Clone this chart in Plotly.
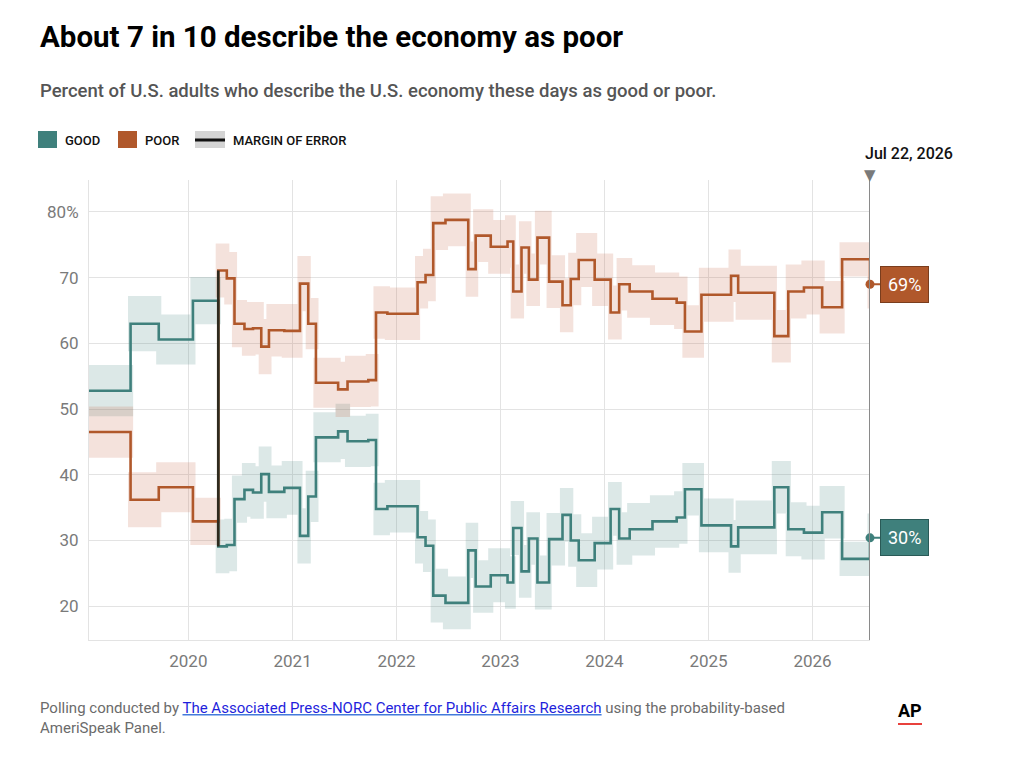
import pandas as pd
import plotly.graph_objects as go

# poll dates (AP-NORC), share saying economy is good / poor, margin of error
poll_dates = ["2019-01-17", "2019-06-12", "2019-09-19", "2020-01-17", "2020-04-15",
              "2020-05-15", "2020-06-11", "2020-07-16", "2020-08-15", "2020-09-13",
              "2020-10-10", "2020-12-03", "2021-01-27", "2021-02-25", "2021-03-24",
              "2021-06-10", "2021-07-13", "2021-09-24", "2021-10-21", "2021-11-30",
              "2022-03-16", "2022-04-13", "2022-05-10", "2022-06-22", "2022-09-10",
              "2022-10-06", "2022-11-28", "2023-01-26", "2023-02-15", "2023-03-16",
              "2023-04-11", "2023-05-11", "2023-06-21", "2023-08-07", "2023-09-05",
              "2023-10-03", "2023-11-28", "2024-01-23", "2024-02-22", "2024-03-30",
              "2024-06-18", "2024-09-11", "2024-10-10", "2024-12-07", "2025-03-21",
              "2025-04-15", "2025-08-20", "2025-10-08", "2025-12-02", "2026-02-04",
              "2026-04-15", "2026-07-22"]

good = [52.8, 63.0, 60.6, 66.5, 29.1, 29.3, 36.3, 37.7, 37.3, 40.1,
        37.4, 38.0, 30.7, 36.7, 45.7, 46.6, 45.1, 45.3, 34.8, 35.2,
        30.5, 29.2, 21.6, 20.5, 28.5, 23.0, 24.7, 23.6, 31.9, 25.3,
        30.3, 23.6, 30.2, 33.9, 30.0, 27.0, 29.6, 34.8, 30.3, 31.7,
        32.9, 33.5, 37.8, 32.3, 29.1, 32.0, 38.1, 31.7, 31.2, 34.3,
        27.2, 30.4]

poor = [46.5, 36.2, 38.1, 32.9, 71.1, 69.9, 63.0, 62.2, 62.3, 59.5,
        62.0, 61.9, 69.1, 63.0, 54.0, 53.0, 54.2, 54.4, 64.7, 64.5,
        69.3, 70.4, 78.3, 78.8, 71.3, 76.4, 74.7, 75.5, 67.9, 74.6,
        69.7, 76.1, 69.4, 65.8, 69.8, 72.7, 69.7, 64.7, 69.0, 67.9,
        66.8, 66.2, 61.8, 67.4, 70.3, 67.7, 61.1, 67.9, 68.5, 65.5,
        72.8, 69.0]

moe = [3.9, 4.2, 3.8, 3.6, 4.1, 4.0, 3.6, 4.1, 4.0, 4.2,
       4.0, 4.1, 4.2, 3.9, 3.8, 4.2, 3.9, 4.0, 4.0, 4.0,
       4.0, 4.0, 4.1, 4.0, 4.2, 4.0, 4.1, 4.0, 4.1, 4.0,
       4.0, 4.1, 4.0, 4.1, 4.0, 4.1, 4.0, 4.1, 4.0, 4.0,
       4.0, 4.0, 4.0, 4.1, 4.0, 4.1, 4.0, 4.1, 4.1, 4.0,
       2.6, 3.7]

year_ticks = ["2020-01-01", "2021-01-01", "2022-01-01", "2023-01-01",
              "2024-01-01", "2025-01-01", "2026-01-01"]
year_labels = ["2020", "2021", "2022", "2023", "2024", "2025", "2026"]
pct_ticks = [20, 30, 40, 50, 60, 70, 80]
pct_labels = ["20", "30", "40", "50", "60", "70", "80%"]

TEAL = "#3f807c"
ORANGE = "#b0582b"
TEAL_BAND = "rgba(63,128,124,0.18)"
ORANGE_BAND = "rgba(198,110,80,0.20)"
FONT = "Roboto, sans-serif"

dates = pd.to_datetime(poll_dates)
x_start = dates[0]
x_end = dates[-1]
pad = pd.Timedelta(days=9)

# the page body adds 8px, so the figure is drawn 8px smaller and everything
# below is given in page pixels
OFF = 8
W, H = 1024 - 2 * OFF, 766 - 2 * OFF
L, R, T, B = 89, 870, 180, 640


def px(x):
    return (x - L) / (R - L)


def py(y):
    return (B - y) / (B - T)


def band_trace(values, color):
    xs, ys = [], []
    for i, v in enumerate(values):
        x0 = max(dates[i] - pad, x_start)
        x1 = dates[i + 1] + pad if i + 1 < len(dates) else dates[i] + pd.Timedelta(days=60)
        lo, hi = v - moe[i], v + moe[i]
        xs += [x0, x1, x1, x0, x0, None]
        ys += [lo, lo, hi, hi, lo, None]
    return go.Scatter(x=xs, y=ys, mode="lines", fill="toself", fillcolor=color,
                      line=dict(width=0), hoverinfo="skip", showlegend=False)


fig = go.Figure()
fig.add_trace(band_trace(good, TEAL_BAND))
fig.add_trace(band_trace(poor, ORANGE_BAND))

fig.add_trace(go.Scatter(x=dates, y=good, mode="lines", line=dict(color=TEAL, width=2.6, shape="hv"),
                         name="Good", showlegend=False))
fig.add_trace(go.Scatter(x=dates, y=poor, mode="lines", line=dict(color=ORANGE, width=2.6, shape="hv"),
                         name="Poor", showlegend=False))

# dark overlap where both series jump at the spring 2020 poll
fig.add_trace(go.Scatter(x=[dates[4], dates[4]], y=[good[4], poor[4]], mode="lines",
                         line=dict(color="#2e2a1e", width=2.6), showlegend=False, hoverinfo="skip"))

# current-date rule with a small pointer on top
fig.add_shape(type="line", xref="x", yref="paper", x0=x_end, x1=x_end, y0=0, y1=py(177),
              line=dict(color="#8a8a8a", width=2))
fig.add_annotation(x=x_end, y=py(175), xref="x", yref="paper", text="▼", showarrow=False,
                   xanchor="center", yanchor="middle",
                   font=dict(family="DejaVu Sans", size=15, color="#7a7a7a"))

# end-point dots + value labels
for vals, col, edge in ((poor, ORANGE, "#7a3d1d"), (good, TEAL, "#2a5a57")):
    fig.add_trace(go.Scatter(x=[x_end], y=[vals[-1]], mode="markers", cliponaxis=False,
                             marker=dict(size=9, color=col), showlegend=False, hoverinfo="skip"))
    fig.add_annotation(x=x_end, y=vals[-1], xref="x", yref="y", text=f"{vals[-1]:.0f}%",
                       showarrow=True, ax=10, ay=0, arrowhead=0, arrowwidth=2, arrowcolor=col,
                       xanchor="left", bgcolor=col, bordercolor=edge,
                       borderwidth=1, borderpad=7,
                       font=dict(family=FONT, size=18, color="white"))

fig.add_annotation(x=x_end, y=py(153), xref="x", yref="paper", text="Jul 22, 2026", showarrow=False,
                   xanchor="left", yanchor="middle", xshift=-7,
                   font=dict(family=FONT, size=16, color="#111", weight=500))

# title, subtitle
fig.add_annotation(x=px(38), y=py(37), xref="paper", yref="paper",
                   text="<b>About 7 in 10 describe the economy as poor</b>",
                   showarrow=False, xanchor="left", yanchor="middle",
                   font=dict(family=FONT, size=29.5, color="#000"))
fig.add_annotation(x=px(38), y=py(91), xref="paper", yref="paper",
                   text="Percent of U.S. adults who describe the U.S. economy these days as good or poor.",
                   showarrow=False, xanchor="left", yanchor="middle",
                   font=dict(family=FONT, size=18.5, color="#555", weight=500))

# legend
fig.add_shape(type="rect", xref="paper", yref="paper", x0=px(38), x1=px(57), y0=py(148), y1=py(131),
              fillcolor=TEAL, line=dict(width=0))
fig.add_shape(type="rect", xref="paper", yref="paper", x0=px(118), x1=px(137), y0=py(148), y1=py(131),
              fillcolor=ORANGE, line=dict(width=0))
fig.add_shape(type="rect", xref="paper", yref="paper", x0=px(195), x1=px(225), y0=py(148), y1=py(131),
              fillcolor="#d4d4d4", line=dict(width=0))
fig.add_shape(type="line", xref="paper", yref="paper", x0=px(195), x1=px(225), y0=py(140), y1=py(140),
              line=dict(color="#111", width=3))
for lx, txt in ((63, "GOOD"), (143, "POOR"), (231, "MARGIN OF ERROR")):
    fig.add_annotation(x=px(lx), y=py(140), xref="paper", yref="paper", text=txt, showarrow=False,
                       xanchor="left", yanchor="middle",
                       font=dict(family=FONT, size=13, color="#111", weight=500))

# footer
fig.add_annotation(x=px(38), y=py(697), xref="paper", yref="paper", showarrow=False,
                   xanchor="left", yanchor="top", align="left",
                   text=("Polling conducted by <a href='https://apnorc.org/'><u><span style='color:#1f1fdc'>"
                         "The Associated Press-NORC Center for Public Affairs Research</span></u></a>"
                         " using the probability-based<br>AmeriSpeak Panel."),
                   font=dict(family=FONT, size=15, color="#6b6b6b"))
fig.add_annotation(x=px(910), y=py(710), xref="paper", yref="paper", text="<b>AP</b>", showarrow=False,
                   xanchor="center", yanchor="middle", font=dict(family=FONT, size=18, color="#000"))
fig.add_shape(type="line", xref="paper", yref="paper", x0=px(898), x1=px(922), y0=py(724), y1=py(724),
              line=dict(color="#e8413c", width=2))

fig.update_xaxes(range=[x_start, x_end], tickvals=year_ticks, ticktext=year_labels,
                 showgrid=True, gridcolor="#e3e3e3", gridwidth=1,
                 showline=True, linecolor="#e3e3e3", linewidth=1,
                 ticks="", ticklabelstandoff=6, zeroline=False,
                 tickfont=dict(family=FONT, size=17, color="#7a7a7a"))
fig.update_yaxes(range=[14.85, 84.87], tickvals=pct_ticks, ticktext=pct_labels,
                 showgrid=True, gridcolor="#e3e3e3", gridwidth=1,
                 showline=True, linecolor="#e3e3e3", linewidth=1,
                 ticks="", ticklabelstandoff=6, zeroline=False,
                 tickfont=dict(family=FONT, size=17, color="#7a7a7a"))

fig.update_layout(width=W, height=H,
                  margin=dict(l=L - OFF, r=W - (R - OFF), t=T - OFF, b=H - (B - OFF)),
                  plot_bgcolor="white", paper_bgcolor="white", showlegend=False)

fig.write_html("out.html")
